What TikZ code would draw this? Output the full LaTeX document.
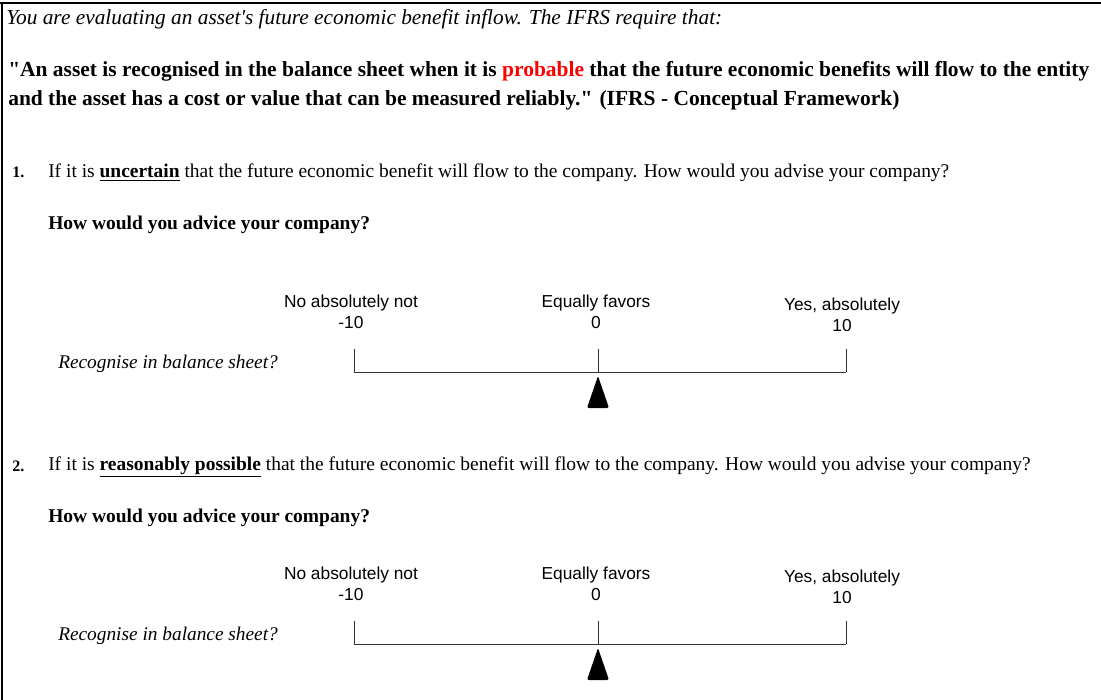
\documentclass[tikz,border=0pt]{standalone}
\usepackage{fontspec}
\setmainfont{Liberation Serif}
\setsansfont{Liberation Sans}
\usetikzlibrary{positioning}

\tikzset{
  body/.style={inner sep=0pt, anchor=west, font=\fontsize{14.6}{17}\selectfont},
  lead/.style={body, font=\fontsize{14.6}{17}\selectfont\bfseries},
  scalelbl/.style={inner sep=0pt, align=center, font=\sffamily\fontsize{13}{15.5}\selectfont},
  tickline/.style={line width=0.6pt, black!80},
  pointer/.style={fill=black, rounded corners=1.5pt}
}

\begin{document}
\begin{tikzpicture}[x=0.75pt,y=-0.75pt]
\useasboundingbox (0,0) rectangle (1101,700);

% frame
\draw[line width=2pt] (0,3) -- (1101,3);
\draw[line width=1.6pt] (2,3) -- (2,700);

% header
\node[body, font=\fontsize{16}{18}\selectfont\itshape] (intro) at (6,19)
  {You are evaluating an asset\textquotesingle s future economic benefit inflow. The IFRS require that:};
\node[lead, align=left, font=\fontsize{16.1}{21.75}\selectfont\bfseries] (quote) at (8,86)
  {\textquotedbl An asset is recognised in the balance sheet when it is \textcolor{red}{probable} that the future economic benefits will flow to the entity\\
   and the asset has a cost or value that can be measured reliably.\textquotedbl{} (IFRS - Conceptual Framework)};

% questions
\node[lead, font=\fontsize{12}{14}\selectfont\bfseries] (num1) at (12,172) {1.};
\node[body] (q1) at (48,173)
  {If it is \textbf{\underline{uncertain}} that the future economic benefit will flow to the company. How would you advise your company?};
\node[lead] (ask1) at (48,225) {How would you advice your company?};

\node[lead, font=\fontsize{12}{14}\selectfont\bfseries] (num2) at (12,466) {2.};
\node[body] (q2) at (48,467)
  {If it is \textbf{\underline{reasonably possible}} that the future economic benefit will flow to the company. How would you advise your company?};
\node[lead] (ask2) at (48,518) {How would you advice your company?};

% rating scales
\foreach \s/\dy in {a/0, b/272} {
  \coordinate (\s-min) at (354,372+\dy);
  \coordinate (\s-mid) at (598,372+\dy);
  \coordinate (\s-max) at (846,372+\dy);
  \node[body, font=\fontsize{14.5}{17}\selectfont\itshape] (\s-ask) at (58,364+\dy) {Recognise in balance sheet?};
  \node[scalelbl] (\s-no) at (351,312+\dy) {No absolutely not\\-10};
  \node[scalelbl] (\s-eq) at (596,312+\dy) {Equally favors\\0};
  \node[scalelbl] (\s-yes) at (842,315+\dy) {Yes, absolutely\\10};
  \draw[tickline] (\s-min) -- (\s-max);
  \foreach \t in {min, mid, max}
    \draw[tickline] (\s-\t) -- ++(0,-23);
  \fill[pointer] ([yshift=-3pt]\s-mid) -- ++(11,32) -- ++(-22,0) -- cycle;
}
\end{tikzpicture}
\end{document}
